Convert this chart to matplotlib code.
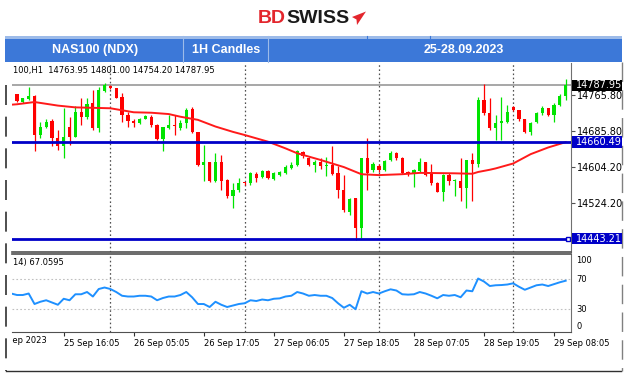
import matplotlib
matplotlib.use('Agg')
import matplotlib.pyplot as plt
from matplotlib.patches import Rectangle, Polygon
from matplotlib.transforms import blended_transform_factory, Bbox
import numpy as np

# ---------------- data ----------------
open_ = [14767, 14751, 14757, 14764, 14676, 14695, 14707, 14669, 14652, 14695,
         14672, 14728, 14717, 14747, 14692, 14775, 14787, 14781, 14762, 14721,
         14708, 14702, 14713, 14717, 14698, 14667, 14691, 14698, 14692, 14702,
         14734, 14682, 14609, 14615, 14573, 14615, 14575, 14538, 14553, 14570,
         14568, 14589, 14581, 14595, 14577, 14586, 14590, 14601, 14609, 14637,
         14625, 14609, 14615, 14607, 14609, 14590, 14553, 14504, 14534, 14467,
         14625, 14597, 14607, 14597, 14620, 14635, 14625, 14594, 14588, 14595,
         14615, 14588, 14568, 14549, 14586, 14573, 14573, 14558, 14620, 14610,
         14755, 14725, 14692, 14704, 14706, 14738, 14731, 14711, 14683, 14706,
         14725, 14736, 14722, 14743, 14763.95]
high = [14769, 14760, 14784, 14766, 14706, 14713, 14713, 14687, 14736, 14717,
        14740, 14758, 14760, 14777, 14784, 14792, 14789, 14782, 14770, 14727,
        14713, 14715, 14722, 14721, 14700, 14695, 14721, 14721, 14710, 14736,
        14738, 14683, 14653, 14616, 14635, 14631, 14577, 14568, 14579, 14571,
        14594, 14594, 14598, 14597, 14592, 14596, 14609, 14615, 14642, 14640,
        14627, 14620, 14624, 14627, 14651, 14607, 14586, 14534, 14534, 14625,
        14669, 14616, 14610, 14620, 14639, 14637, 14627, 14596, 14600, 14624,
        14616, 14612, 14571, 14588, 14590, 14577, 14625, 14620, 14635, 14762,
        14790, 14758, 14722, 14762, 14743, 14740, 14732, 14713, 14706, 14727,
        14742, 14737, 14747, 14767, 14801.00]
low = [14751, 14747, 14755, 14639, 14669, 14691, 14652, 14642, 14624, 14654,
       14671, 14698, 14713, 14687, 14682, 14773, 14779, 14758, 14706, 14693,
       14693, 14700, 14712, 14695, 14665, 14640, 14689, 14676, 14687, 14691,
       14680, 14607, 14573, 14571, 14571, 14553, 14535, 14513, 14549, 14564,
       14564, 14570, 14579, 14577, 14575, 14585, 14588, 14600, 14607, 14625,
       14607, 14594, 14600, 14583, 14586, 14534, 14504, 14497, 14440, 14444,
       14553, 14594, 14594, 14595, 14618, 14620, 14588, 14583, 14560, 14592,
       14585, 14564, 14547, 14527, 14564, 14538, 14527, 14512, 14527, 14605,
       14720, 14687, 14665, 14665, 14702, 14730, 14707, 14680, 14675, 14702,
       14722, 14719, 14706, 14740, 14754.20]
close = [14752, 14758, 14764, 14677, 14695, 14706, 14670, 14652, 14672, 14672,
         14728, 14717, 14745, 14691, 14777, 14788, 14781, 14760, 14721, 14707,
         14702, 14713, 14719, 14698, 14667, 14693, 14698, 14697, 14704, 14732,
         14682, 14609, 14615, 14573, 14615, 14573, 14538, 14553, 14568, 14568,
         14591, 14580, 14596, 14579, 14590, 14594, 14605, 14609, 14639, 14629,
         14609, 14616, 14606, 14609, 14588, 14553, 14508, 14532, 14467, 14625,
         14590, 14612, 14597, 14618, 14635, 14625, 14590, 14588, 14597, 14615,
         14586, 14568, 14549, 14586, 14573, 14575, 14558, 14620, 14610, 14755,
         14725, 14691, 14704, 14706, 14727, 14732, 14711, 14682, 14704, 14725,
         14736, 14722, 14743, 14764, 14787.95]

# moving average read at selected bars
ma_bar = [-1, 0, 3, 7, 10, 16, 20, 23, 26, 28, 31, 34, 37, 39, 43, 46, 48, 52,
          56, 59, 62, 66, 69, 75, 78, 79, 81, 82, 85, 88, 91, 94]
ma_val = [14744, 14745, 14750, 14742, 14738, 14736, 14727, 14726, 14723, 14717,
          14710, 14695, 14683, 14676, 14661, 14646, 14635, 14620, 14604, 14588,
          14586, 14588, 14591, 14590, 14589, 14593, 14598, 14601, 14612, 14633,
          14648, 14660]

# RSI(14) per bar (first value = left edge, bar -1)
rsi = [50, 48, 48, 50, 36, 39, 41, 38, 35, 43, 41, 49, 49, 52, 46, 56, 58, 56, 52,
       47, 46, 46, 47, 47, 46, 41, 44, 46, 46, 48, 52, 45, 36, 36, 32, 39, 35,
       32, 34, 36, 37, 41, 40, 42, 41, 43, 43.5, 46, 47, 52, 50, 47, 48, 47,
       47, 44, 37, 31, 35, 29, 53, 50, 52, 50, 53, 55.6, 54, 49, 48.5, 49, 52,
       50, 47, 43.6, 48, 47, 48, 45, 54, 53, 70, 66, 60, 61, 61.3, 62, 63.6,
       59, 55, 58, 61, 62, 60, 62.5, 65, 67.06]

levels_blue = [14660.49, 14443.21]
last_price = 14787.95
price_ticks = [14765.80, 14685.80, 14604.20, 14524.20]
rsi_ticks = [100, 70, 30, 0]
day_sep = [16, 39, 62, 85]
time_tick_bar = [-4, 8, 20, 32, 44, 56, 68, 80, 92]
time_tick_lbl = ["25 Sep 2023", "25 Sep 16:05", "26 Sep 05:05", "26 Sep 17:05",
                 "27 Sep 06:05", "27 Sep 18:05", "28 Sep 07:05", "28 Sep 19:05",
                 "29 Sep 08:05"]
header_cells = ["NAS100 (NDX)", "1H Candles", "25-28.09.2023"]

# ---------------- figure ----------------
W, H = 624, 376
plt.rcParams['font.family'] = ['DejaVu Sans']
fig = plt.figure(figsize=(W / 100, H / 100), dpi=100)
fig.patch.set_facecolor('white')


def axes_px(l, t, r, b):
    return fig.add_axes([l / W, 1 - b / H, (r - l) / W, (b - t) / H])


bg = fig.add_axes([0, 0, 1, 1])
bg.set_xlim(0, W)
bg.set_ylim(H, 0)
bg.axis('off')
bg.set_zorder(-5)

# logo
bg.text(286, 18.5, "BD", color='#e3262d', fontsize=14, fontweight='bold',
        ha='right', va='center', family='Liberation Sans')
bg.text(286, 18.5, "SWISS", color='#1a1a1a', fontsize=14, fontweight='bold',
        ha='left', va='center', family='Liberation Sans')
bg.add_patch(Polygon([(352, 17), (366, 11.5), (357, 25), (356.5, 19.5)],
                     closed=True, fc='#e3262d', ec='none'))

# header bar
bg.add_patch(Rectangle((5, 36), 617, 26, fc='#3c78d8', ec='none'))
bg.add_patch(Rectangle((5, 36), 617, 2.5, fc='#9dbbe9', ec='none'))
for xd in (183, 268):
    bg.plot([xd, xd], [36, 62], color='#9dbbe9', lw=0.8)
for xd in (367, 430):
    bg.plot([xd, xd], [36, 38.5], color='#3c78d8', lw=0.8)
for cx, t in zip((95, 226, 464), header_cells):
    bg.text(cx, 50, t, color='white', fontsize=9, fontweight='bold',
            ha='center', va='center', family='Liberation Sans')

# outer frame
bg.plot([6, 621], [371, 371], color='#303030', lw=1)
bg.plot([6, 6], [85, 371], color='#303030', lw=1.2, ls=(0, (12, 7)))
bg.plot([621.5, 621.5], [62, 371], color='#808080', lw=1, ls=(0, (14, 6)))

# ---------------- main panel ----------------
ax = axes_px(12, 63, 571, 252)
ax_r = axes_px(12, 254, 571, 332)
xl = (-0.857, 94.91)
for a in (ax, ax_r):
    a.set_xlim(*xl)
    a.set_facecolor('none')
ax.set_ylim(14413.4, 14837.6)
ax_r.set_ylim(-1.33, 102.7)

x = np.arange(len(close))
o = np.array(open_)
c = np.array(close)
col = np.where(c >= o, '#00e400', '#ff0000')
ax.vlines(x, low, high, colors=col, lw=0.9, zorder=3)
ax.bar(x, np.maximum(np.abs(c - o), 2.5), bottom=np.minimum(o, c), width=0.55,
       color=col, lw=0, zorder=4)

ax.plot(ma_bar, ma_val, color='#ff1a1a', lw=1.4, zorder=5)

ax.axhline(last_price, color='#a0a0a0', lw=1.3, zorder=2)
for lv in levels_blue:
    ax.axhline(lv, color='#0000c8', lw=2, zorder=6)
ax.plot([94.4], [levels_blue[1]], marker='s', ms=3.2, mfc='white',
        mec='#0000c8', mew=1, zorder=7, clip_on=False)

for a in (ax, ax_r):
    for d in day_sep:
        a.axvline(d, color='#505050', lw=0.9, ls=(0, (1.3, 2)), zorder=1)

# price axis
ax.yaxis.tick_right()
ax.set_yticks(price_ticks)
ax.set_yticklabels([f"{p:.2f}" for p in price_ticks])
ax.tick_params(axis='y', length=3, width=0.8, pad=1, labelsize=7,
               color='#505050', labelcolor='black')
ax.set_xticks([])
for s in ('top', 'left'):
    ax.spines[s].set_visible(False)
ax.spines['right'].set_color('#707070')
ax.spines['bottom'].set_color('#505050')
ax.spines['bottom'].set_linewidth(1.2)

tr = blended_transform_factory(ax.transAxes, ax.transData)
hh = 5.6 / 0.4455
for p, fc in ((last_price, 'black'), (levels_blue[0], '#0000c8'),
              (levels_blue[1], '#0000c8')):
    ax.add_patch(Rectangle((1.002, p - hh), 50 / 559, 2 * hh, transform=tr,
                           fc=fc, ec='none', clip_on=False, zorder=8))
    ax.text(1.0 + 5 / 559, p, f"{p:.2f}", transform=tr, color='white',
            fontsize=7, va='center', ha='left', clip_on=False, zorder=9)

# ---------------- RSI panel ----------------
ax_r.plot(np.arange(-1, len(rsi) - 1), rsi, color='#1e90ff', lw=1.4, zorder=4)
for lv in (70, 30):
    ax_r.axhline(lv, color='#c0c0c0', lw=0.8, ls=(0, (1.5, 2)), zorder=1)
ax_r.yaxis.tick_right()
ax_r.set_yticks(rsi_ticks)
ax_r.set_yticklabels([str(v) for v in rsi_ticks])
ax_r.tick_params(axis='y', length=0, pad=4, labelsize=6, labelcolor='black')
labs = ax_r.get_yticklabels()
labs[0].set_va('top')
labs[-1].set_va('bottom')
ax_r.spines['left'].set_visible(False)
ax_r.spines['right'].set_color('#707070')
for s in ('top', 'bottom'):
    ax_r.spines[s].set_color('#505050')
ax_r.spines['top'].set_linewidth(1.2)

inside = [(b, l) for b, l in zip(time_tick_bar, time_tick_lbl) if b >= xl[0]]
ax_r.set_xticks([b for b, _ in inside])
ax_r.set_xticklabels([l for _, l in inside])
ax_r.tick_params(axis='x', length=3, width=0.8, pad=2, labelsize=6,
                 color='#303030', labelcolor='black')
for t in ax_r.get_xticklabels():
    t.set_ha('left')

trx = blended_transform_factory(ax_r.transData, ax_r.transAxes)
for b, l in zip(time_tick_bar, time_tick_lbl):
    if b < xl[0]:
        t = ax_r.text(b, -0.055, l, transform=trx, fontsize=6, ha='left',
                      va='top', color='black')
        t.set_clip_box(Bbox.from_extents(12, 0, 624, 376))
        t.set_clip_on(True)

# panel captions
bg.text(13, 70.5, "100,H1  14763.95 14801.00 14754.20 14787.95", fontsize=6,
        va='center', ha='left', color='black')
bg.text(13, 262, "14) 67.0595", fontsize=6, va='center', ha='left',
        color='black')

fig.savefig('out.png', dpi=100)
